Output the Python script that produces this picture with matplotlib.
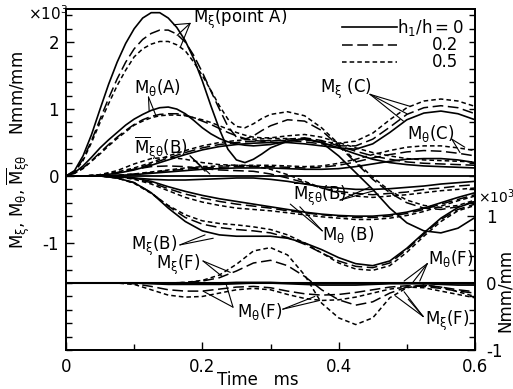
import numpy as np
import matplotlib
matplotlib.use('Agg')
import matplotlib.pyplot as plt
from matplotlib.ticker import MultipleLocator, FixedLocator

plt.rcParams['font.family'] = 'DejaVu Sans'
plt.rcParams['mathtext.default'] = 'regular'
plt.rcParams['axes.unicode_minus'] = False

# time samples (ms)
t = np.linspace(0, 0.6, 25)
tA = np.concatenate([np.linspace(0, 0.3, 25), np.linspace(0.325, 0.6, 12)])

# ---- left axis series (x10^3 Nmm/mm); suffix = h1/h (0, 0.2, 0.5) ----
# point A (sampled on tA)
mxiA_0 = [0, 0.08, 0.3, 0.62, 1.0, 1.37, 1.7, 1.98, 2.2, 2.36, 2.44, 2.44, 2.36, 2.22, 2.02, 1.75, 1.42, 1.05, 0.7, 0.4, 0.24, 0.2, 0.25, 0.33, 0.42,
          0.52, 0.56, 0.5, 0.3, 0.05, -0.2, -0.48, -0.7, -0.82, -0.85, -0.78, -0.62]
mxiA_2 = [0, 0.07, 0.25, 0.53, 0.85, 1.16, 1.45, 1.7, 1.9, 2.04, 2.13, 2.18, 2.18, 2.12, 2.0, 1.8, 1.55, 1.27, 1.0, 0.74, 0.58, 0.55, 0.6, 0.68, 0.75,
          0.84, 0.82, 0.68, 0.45, 0.2, -0.05, -0.25, -0.4, -0.48, -0.5, -0.46, -0.38]
mxiA_5 = [0, 0.06, 0.23, 0.5, 0.8, 1.08, 1.35, 1.58, 1.78, 1.9, 1.97, 2.01, 2.01, 1.96, 1.87, 1.7, 1.5, 1.28, 1.05, 0.85, 0.74, 0.72, 0.78, 0.86, 0.92,
          0.96, 0.9, 0.72, 0.48, 0.22, -0.02, -0.22, -0.36, -0.44, -0.47, -0.44, -0.36]
mthA_0 = [0, 0.05, 0.15, 0.28, 0.42, 0.54, 0.65, 0.76, 0.85, 0.92, 0.98, 1.02, 1.03, 1.0, 0.93, 0.83, 0.72, 0.63, 0.56, 0.51, 0.48, 0.46, 0.45, 0.46, 0.47,
          0.52, 0.55, 0.5, 0.42, 0.33, 0.25, 0.2, 0.17, 0.15, 0.14, 0.13, 0.12]
mthA_2 = [0, 0.04, 0.12, 0.23, 0.35, 0.47, 0.58, 0.68, 0.77, 0.84, 0.89, 0.92, 0.93, 0.93, 0.91, 0.87, 0.82, 0.77, 0.71, 0.65, 0.6, 0.56, 0.53, 0.52, 0.52,
          0.55, 0.57, 0.53, 0.45, 0.37, 0.3, 0.25, 0.21, 0.19, 0.18, 0.17, 0.16]
mthA_5 = [0, 0.04, 0.11, 0.22, 0.33, 0.45, 0.56, 0.66, 0.76, 0.82, 0.87, 0.9, 0.91, 0.91, 0.9, 0.87, 0.84, 0.8, 0.75, 0.7, 0.65, 0.61, 0.58, 0.57, 0.57,
          0.6, 0.62, 0.58, 0.5, 0.42, 0.35, 0.3, 0.26, 0.24, 0.23, 0.22, 0.21]

# points B, C (sampled on t)
mxiC_0 = [0, 0, 0.01, 0.04, 0.09, 0.16, 0.24, 0.32, 0.39, 0.44, 0.47, 0.49, 0.5, 0.5, 0.48, 0.45, 0.42, 0.4, 0.48, 0.65, 0.84, 0.94, 0.97, 0.93, 0.84]
mxiC_2 = [0, 0, 0.01, 0.05, 0.1, 0.18, 0.27, 0.35, 0.42, 0.47, 0.5, 0.52, 0.53, 0.53, 0.51, 0.48, 0.45, 0.45, 0.55, 0.73, 0.92, 1.02, 1.05, 1.02, 0.93]
mxiC_5 = [0, 0, 0.02, 0.06, 0.12, 0.2, 0.3, 0.38, 0.45, 0.5, 0.53, 0.55, 0.56, 0.56, 0.54, 0.51, 0.49, 0.52, 0.64, 0.84, 1.02, 1.12, 1.15, 1.12, 1.04]

mthC_0 = [0, 0, 0, 0.01, 0.02, 0.04, 0.06, 0.08, 0.1, 0.11, 0.12, 0.12, 0.12, 0.11, 0.1, 0.1, 0.11, 0.14, 0.18, 0.22, 0.25, 0.26, 0.26, 0.24, 0.2]
mthC_2 = [0, 0, 0, 0.01, 0.03, 0.05, 0.08, 0.1, 0.12, 0.13, 0.14, 0.14, 0.14, 0.13, 0.12, 0.13, 0.16, 0.21, 0.27, 0.32, 0.36, 0.38, 0.37, 0.34, 0.3]
mthC_5 = [0, 0, 0, 0.01, 0.03, 0.06, 0.09, 0.12, 0.14, 0.15, 0.16, 0.16, 0.16, 0.15, 0.14, 0.15, 0.19, 0.25, 0.32, 0.38, 0.43, 0.45, 0.45, 0.42, 0.38]

mxthB_0 = [0, 0, 0, -0.01, -0.03, -0.05, -0.06, -0.06, -0.05, -0.04, -0.03, -0.03, -0.05, -0.08, -0.12, -0.16, -0.18, -0.2, -0.2, -0.19, -0.17, -0.15, -0.12, -0.1, -0.08]
mxthB_2 = [0, 0, 0.01, 0.05, 0.1, 0.14, 0.15, 0.14, 0.11, 0.09, 0.08, 0.07, 0.03, -0.03, -0.1, -0.18, -0.23, -0.26, -0.28, -0.26, -0.24, -0.2, -0.18, -0.15, -0.13]
mxthB_5 = [0, 0, 0.02, 0.08, 0.18, 0.26, 0.28, 0.25, 0.2, 0.17, 0.16, 0.15, 0.1, 0.02, -0.08, -0.18, -0.25, -0.3, -0.32, -0.3, -0.28, -0.25, -0.22, -0.2, -0.18]

mthB_0 = [0, 0, 0, -0.01, -0.03, -0.08, -0.16, -0.23, -0.29, -0.34, -0.38, -0.42, -0.46, -0.5, -0.54, -0.57, -0.59, -0.6, -0.6, -0.58, -0.54, -0.48, -0.4, -0.32, -0.25]
mthB_2 = [0, 0, 0, -0.01, -0.04, -0.1, -0.19, -0.27, -0.33, -0.38, -0.42, -0.45, -0.48, -0.52, -0.55, -0.58, -0.6, -0.62, -0.62, -0.6, -0.56, -0.5, -0.42, -0.35, -0.28]
mthB_5 = [0, 0, 0, -0.01, -0.05, -0.12, -0.22, -0.32, -0.39, -0.44, -0.48, -0.5, -0.52, -0.55, -0.58, -0.61, -0.63, -0.65, -0.65, -0.63, -0.59, -0.53, -0.45, -0.37, -0.3]

mxiB_0 = [0, 0, 0, -0.03, -0.1, -0.25, -0.48, -0.68, -0.82, -0.88, -0.9, -0.9, -0.9, -0.93, -1.0, -1.1, -1.22, -1.31, -1.34, -1.27, -1.08, -0.85, -0.63, -0.47, -0.38]
mxiB_2 = [0, 0, 0, -0.03, -0.1, -0.25, -0.45, -0.62, -0.72, -0.77, -0.8, -0.82, -0.85, -0.92, -1.02, -1.15, -1.27, -1.35, -1.37, -1.3, -1.1, -0.87, -0.65, -0.5, -0.42]
mxiB_5 = [0, 0, 0, -0.03, -0.11, -0.26, -0.44, -0.58, -0.67, -0.71, -0.73, -0.76, -0.8, -0.88, -1.0, -1.15, -1.3, -1.39, -1.41, -1.34, -1.14, -0.9, -0.68, -0.52, -0.44]

# ---- right axis series (point F, x10^3 Nmm/mm), sampled on t ----
mxiF_0 = [0, 0, 0, 0, 0, 0, 0, 0, 0, 0, 0.01, 0.01, 0.01, 0, 0, -0.01, -0.01, -0.01, -0.01, 0, 0, 0, 0, -0.01, -0.01]
mxiF_2 = [0, 0, 0, 0, 0, 0, 0, 0.01, 0.03, 0.08, 0.18, 0.3, 0.34, 0.26, 0.1, -0.1, -0.25, -0.33, -0.28, -0.15, -0.06, -0.03, -0.06, -0.1, -0.13]
mxiF_5 = [0, 0, 0, 0, 0, 0, 0, 0.01, 0.04, 0.12, 0.28, 0.48, 0.53, 0.42, 0.12, -0.3, -0.52, -0.62, -0.52, -0.22, -0.07, -0.03, -0.06, -0.13, -0.2]
mthF_0 = [0, 0, 0, 0, 0, -0.01, -0.02, -0.02, -0.02, -0.02, -0.01, 0, 0, -0.01, -0.02, -0.03, -0.03, -0.03, -0.02, -0.01, -0.01, -0.01, -0.02, -0.03, -0.03]
mthF_2 = [0, 0, 0, 0, -0.01, -0.05, -0.1, -0.12, -0.12, -0.09, -0.06, -0.05, -0.07, -0.12, -0.16, -0.18, -0.17, -0.14, -0.1, -0.06, -0.04, -0.05, -0.08, -0.12, -0.15]
mthF_5 = [0, 0, 0, 0, -0.02, -0.1, -0.18, -0.21, -0.2, -0.15, -0.1, -0.08, -0.1, -0.17, -0.23, -0.26, -0.25, -0.21, -0.15, -0.09, -0.06, -0.07, -0.12, -0.17, -0.22]

left_groups = [(tA, (mxiA_0, mxiA_2, mxiA_5)), (tA, (mthA_0, mthA_2, mthA_5)),
               (t, (mxiC_0, mxiC_2, mxiC_5)), (t, (mthC_0, mthC_2, mthC_5)),
               (t, (mxthB_0, mxthB_2, mxthB_5)), (t, (mthB_0, mthB_2, mthB_5)),
               (t, (mxiB_0, mxiB_2, mxiB_5))]
right_groups = [(mxiF_0, mxiF_2, mxiF_5), (mthF_0, mthF_2, mthF_5)]

W, H = 513, 389
fig = plt.figure(figsize=(W / 100, H / 100), dpi=100)
ax = fig.add_axes([66 / W, 1 - 350 / H, 409 / W, 341 / H])
ax2 = ax.twinx()
ax.set_xlim(0, 0.6)
ax.set_ylim(-2.6, 2.495)
ax2.set_ylim(-1.0, 4.095)

styles = [dict(ls='-', lw=1.2), dict(ls=(0, (7, 3)), lw=1.1), dict(ls=(0, (3, 2)), lw=1.1)]

ax.axhline(0, color='k', lw=1.3)
ax2.axhline(0, color='k', lw=1.5)
for tt, grp in left_groups:
    for y, st in zip(grp, styles):
        ax.plot(tt, y, color='k', **st)
for grp in right_groups:
    for y, st in zip(grp, styles):
        ax2.plot(t, y, color='k', **st)

# ticks
ax.set_xticks([0, 0.2, 0.4, 0.6])
ax.set_xticklabels(['0', '0.2', '0.4', '0.6'])
ax.xaxis.set_minor_locator(FixedLocator([0.1, 0.3, 0.5]))
ax.set_yticks([-1, 0, 1, 2])
ax.set_yticklabels(['-1', '0', '1', '2'])
ax.yaxis.set_minor_locator(MultipleLocator(0.2))
ax.tick_params(which='both', direction='in', top=False, right=False, labelsize=12, width=1.0)
ax.tick_params(which='major', length=6, pad=5)
ax.tick_params(which='minor', length=4)
ax.tick_params(axis='x', pad=6)
ax2.set_yticks([-1, 0, 1])
ax2.set_yticklabels(['-1', '0', '1'])
ax2.yaxis.set_minor_locator(MultipleLocator(0.2))
ax2.tick_params(which='both', direction='in', labelsize=12, width=1.0)
ax2.tick_params(which='major', length=6, pad=8)
ax2.tick_params(which='minor', length=4)
for a in (ax, ax2):
    for s in a.spines.values():
        s.set_linewidth(1.3)

# axis labels
fig.text(18 / W, 1 - 150 / H, r'$M_\xi$, $M_\theta$, $\overline{M}_{\xi\theta}$    Nmm/mm',
         rotation=90, ha='center', va='center', fontsize=12)
fig.text(48 / W, 1 - 14 / H, r'$\times10^3$', ha='center', va='center', fontsize=11)
fig.text(496 / W, 1 - 197 / H, r'$\times10^3$', ha='center', va='center', fontsize=10)
fig.text(505 / W, 1 - 290 / H, 'Nmm/mm', rotation=90, ha='center', va='center', fontsize=12)
fig.text(258 / W, 1 - 380 / H, 'Time   ms', ha='center', va='center', fontsize=12)

# legend
lx0, lx1 = (342 - 66) / 409, (397 - 66) / 409
for yy, st in zip([(350 - 27) / 341, (350 - 45) / 341, (350 - 62) / 341], styles):
    ax.plot([lx0, lx1], [yy, yy], color='k', transform=ax.transAxes, **st)
ax.text(lx1, (350 - 27) / 341, r'$h_1/h=0$', transform=ax.transAxes, ha='left', va='center', fontsize=12)
ax.text((458 - 66) / 409, (350 - 45) / 341, '0.2', transform=ax.transAxes, ha='right', va='center', fontsize=12)
ax.text((458 - 66) / 409, (350 - 62) / 341, '0.5', transform=ax.transAxes, ha='right', va='center', fontsize=12)


def label(txt, pos, arrows, ha='left'):
    ax.text(pos[0], pos[1], txt, ha=ha, va='center', fontsize=12)
    for src, tips in arrows:
        for tp in tips:
            ax.annotate('', xy=tp, xytext=src,
                        arrowprops=dict(arrowstyle='-', lw=0.8, color='k', shrinkA=0, shrinkB=0))


label(r'$M_\xi$(point A)', (0.186, 2.34), [((0.182, 2.28), [(0.158, 2.26), (0.163, 2.1), (0.168, 1.93)])])
label(r'$M_\theta$(A)', (0.135, 1.32), [((0.121, 1.18), [(0.122, 0.97), (0.132, 0.9)])], ha='center')
label(r'$\overline{M}_{\xi\theta}$(B)', (0.1, 0.42), [((0.182, 0.3), [(0.204, 0.07), (0.211, 0.03)])])
label(r'$M_\xi$ (C)', (0.373, 1.3), [((0.446, 1.22), [(0.505, 1.04), (0.5, 0.93), (0.495, 0.82)])])
label(r'$M_\theta$(C)', (0.5, 0.63), [((0.566, 0.55), [(0.585, 0.43), (0.578, 0.35)])])
label(r'$\overline{M}_{\xi\theta}$(B)', (0.333, -0.27), [((0.402, -0.36), [(0.445, -0.17), (0.452, -0.22)])])
label(r'$M_\theta$ (B)', (0.376, -0.87), [((0.376, -0.82), [(0.329, -0.42), (0.343, -0.46)])])
label(r'$M_\xi$(B)', (0.164, -1.04), [((0.167, -1.03), [(0.216, -0.93), (0.204, -0.88)])], ha='right')
label(r'$M_\xi$(F)', (0.197, -1.33), [((0.201, -1.27), [(0.241, -1.44), (0.229, -1.5)])], ha='right')
label(r'$M_\theta$(F)', (0.251, -2.02), [((0.245, -1.96), [(0.201, -1.72), (0.235, -1.62)]),
                                          ((0.318, -1.99), [(0.372, -1.86), (0.365, -1.8)])])
label(r'$M_\theta$(F)', (0.531, -1.24), [((0.53, -1.31), [(0.496, -1.57), (0.508, -1.6), (0.519, -1.57)])])
label(r'$M_\xi$(F)', (0.527, -2.16), [((0.524, -2.1), [(0.483, -1.79), (0.496, -1.73), (0.502, -1.84)])])

fig.savefig('out.png', dpi=100)
